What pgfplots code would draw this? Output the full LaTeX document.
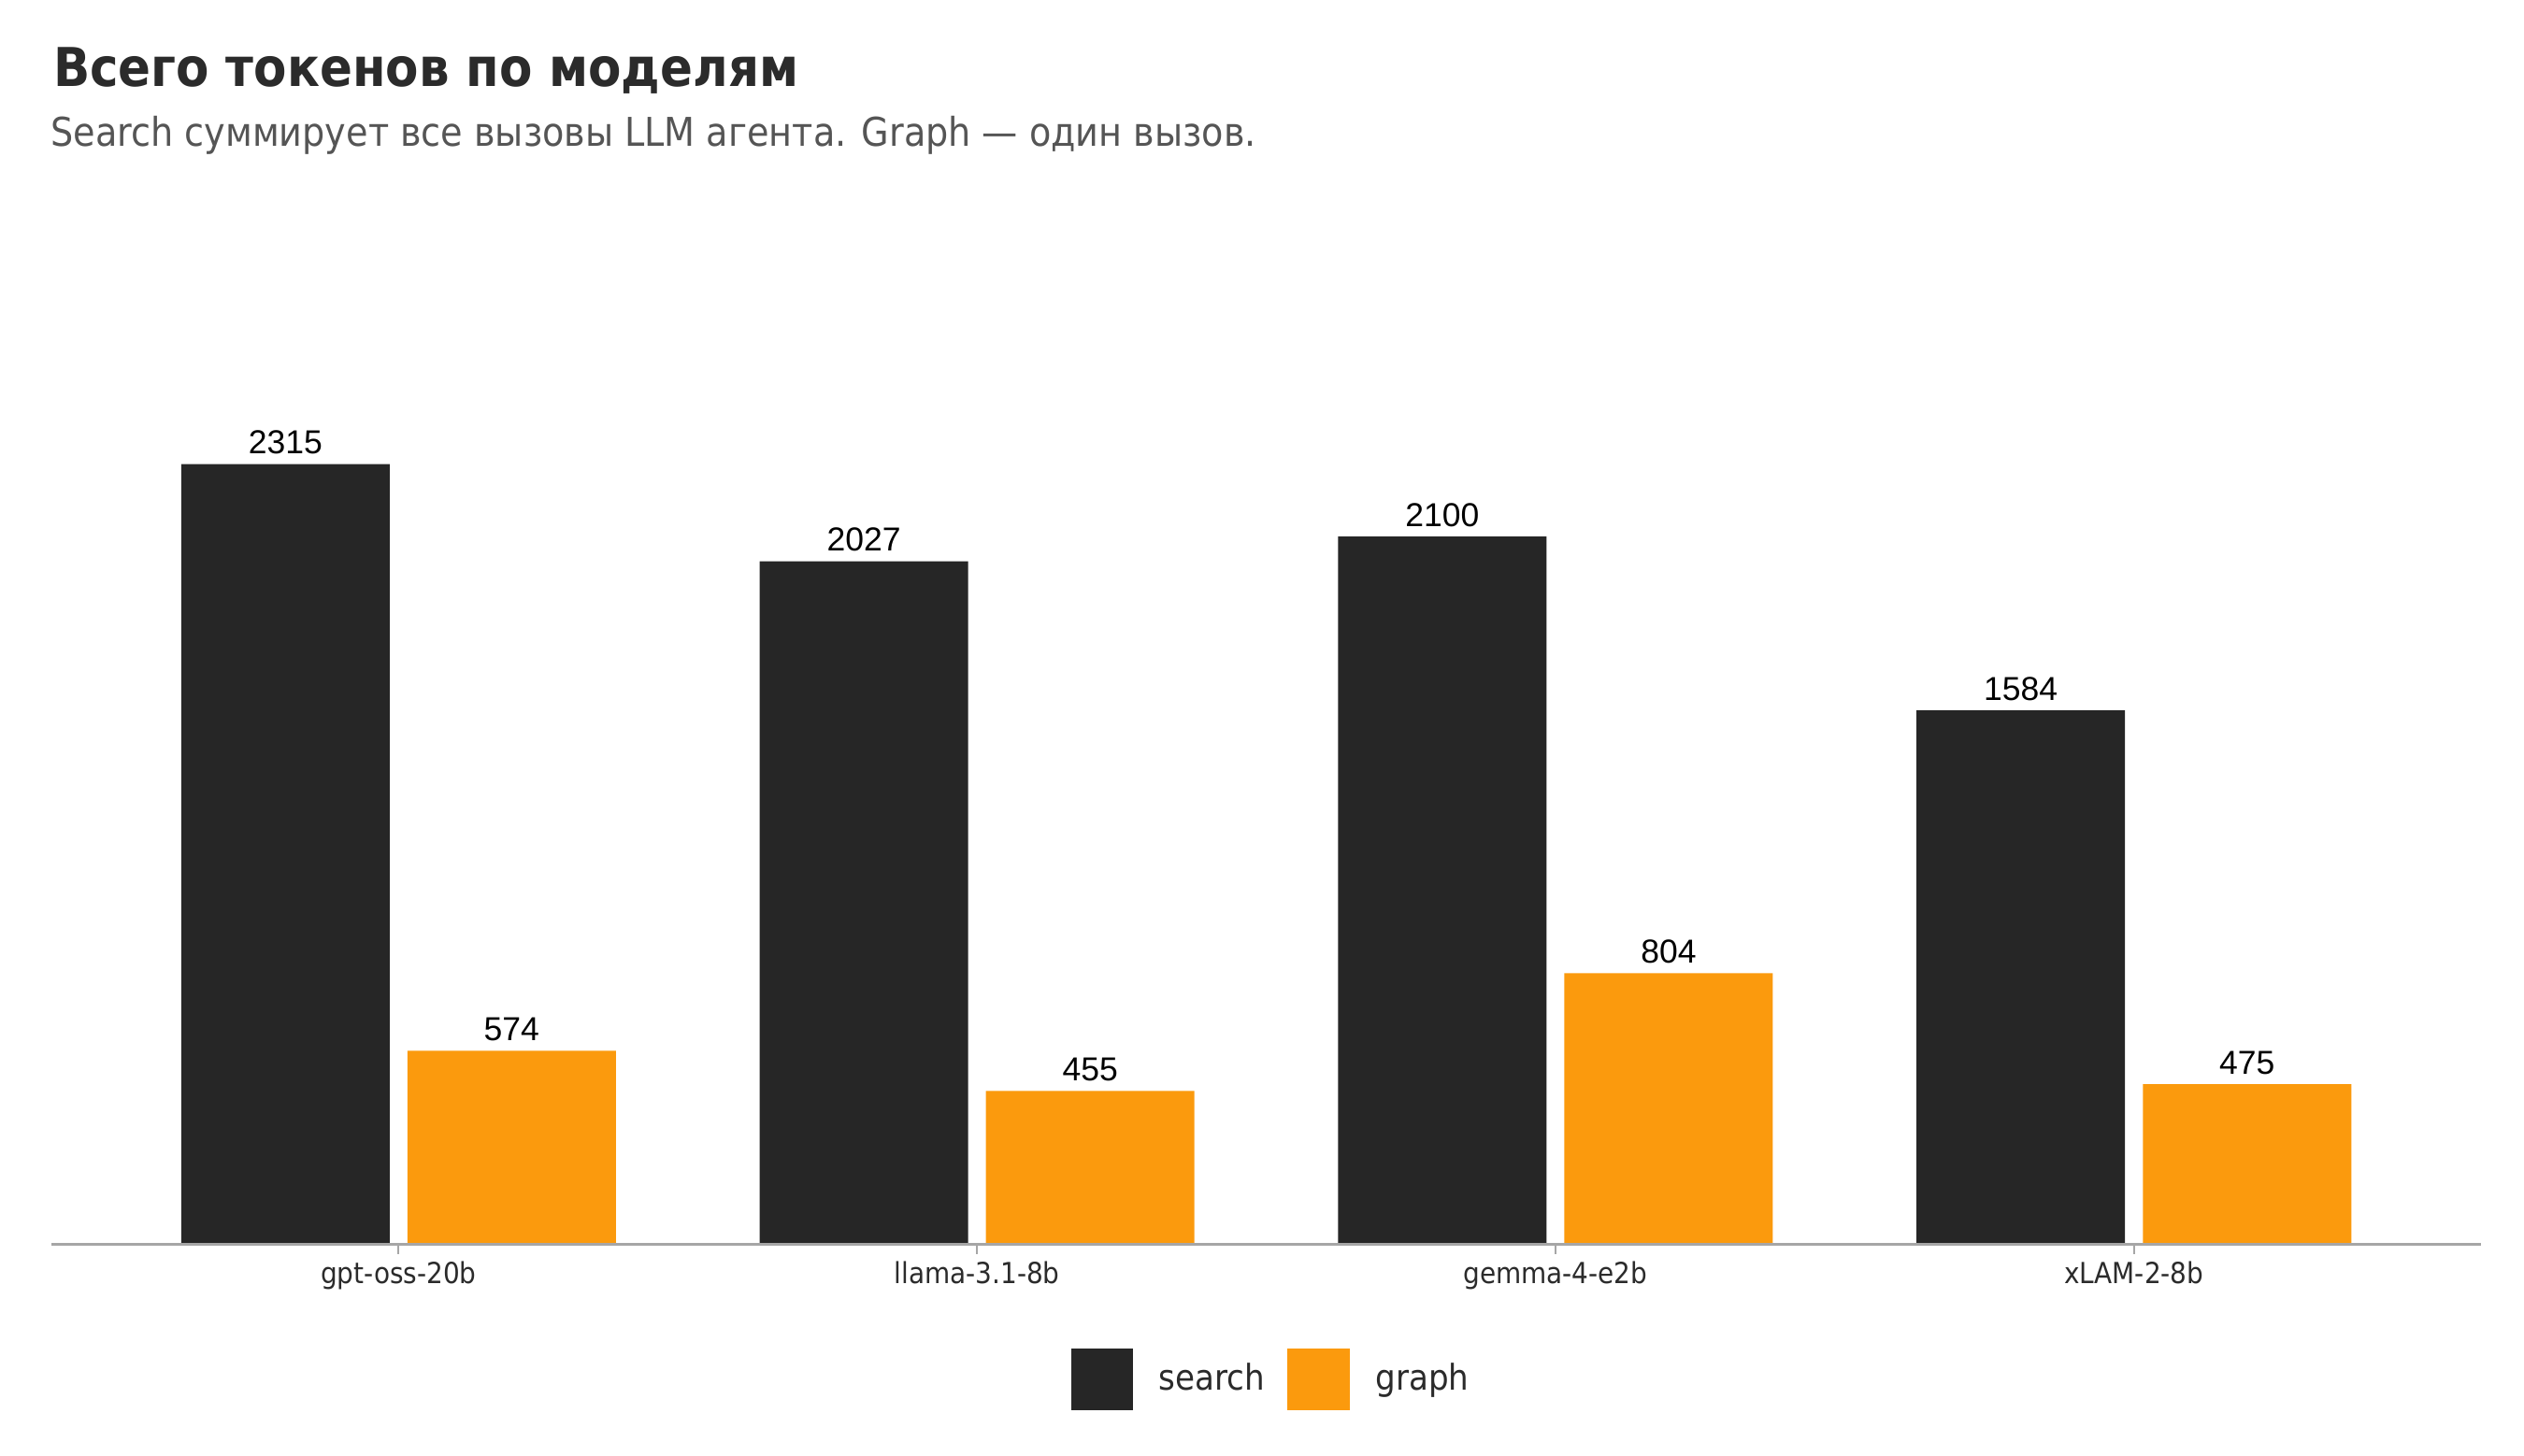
\documentclass[border=0pt]{standalone}
\usepackage{fontspec}
\usepackage{pgfplots}
\pgfplotsset{compat=1.18}
\setmainfont{DejaVu Sans Condensed}
\newfontfamily\titlefont{DejaVu Sans Condensed Bold}
\newfontfamily\valfont{Liberation Sans}

\definecolor{searchcol}{HTML}{262626}
\definecolor{graphcol}{HTML}{FB9A0D}
\definecolor{axisgray}{HTML}{A6A6A6}
\definecolor{subgray}{HTML}{555555}
\definecolor{ticktext}{HTML}{2B2B2B}

\begin{document}
\begin{tikzpicture}[x=1bp,y=1bp]
\useasboundingbox (0,0) rectangle (780,450);

\node[anchor=base west, inner sep=0pt, text=ticktext] at (16.3,423.4)
  {\titlefont\fontsize{16.6}{20}\selectfont Всего токенов по моделям};
\node[anchor=base west, inner sep=0pt, text=subgray] at (15.6,404.7)
  {\fontsize{12.3}{14}\selectfont Search суммирует все вызовы LLM агента. Graph — один вызов.};

\begin{axis}[
  at={(15.9bp,65.4bp)}, anchor=south west,
  scale only axis,
  width=750.8bp, height=311.5bp,
  xmin=-0.6, xmax=3.6,
  ymin=0, ymax=2991,
  axis x line=bottom, axis y line=none,
  x axis line style={-, draw=axisgray, line width=1bp},
  xtick={0,1,2,3},
  xticklabels={gpt-oss-20b, llama-3.1-8b, gemma-4-e2b, xLAM-2-8b},
  xtick style={draw=axisgray, line width=0.5bp},
  tick align=outside, major tick length=3bp,
  xticklabel style={font=\fontsize{9}{10}\selectfont, text=ticktext, yshift=1bp},
  ybar, bar width=0.3604,
  axis on top,
  nodes near coords={\pgfmathprintnumber[1000 sep={}, assume math mode=true]{\pgfplotspointmeta}},
  nodes near coords style={font=\valfont\fontsize{10.3}{12}\selectfont, text=black, anchor=south, inner ysep=2.8bp, inner xsep=0pt},
  legend style={at={(0.5,0)}, yshift=-41.7bp, xshift=3bp, anchor=center, draw=none,
    font=\fontsize{11}{13}\selectfont, text=ticktext,
    legend columns=2,
    /tikz/every odd column/.append style={column sep=4.5bp},
    /tikz/every even column/.append style={column sep=3.4bp},
    nodes={inner xsep=3.6bp}},
  legend image code/.code={\fill[#1, draw=none] (0bp,-9.5bp) rectangle (19.1bp,9.5bp);},
]
\addplot[fill=searchcol, draw=none, bar shift=-0.1956] coordinates {(0,2315) (1,2027) (2,2100) (3,1584)};
\addplot[fill=graphcol, draw=none, bar shift=0.1956] coordinates {(0,574) (1,455) (2,804) (3,475)};
\legend{search, graph}
\end{axis}
\end{tikzpicture}
\end{document}
